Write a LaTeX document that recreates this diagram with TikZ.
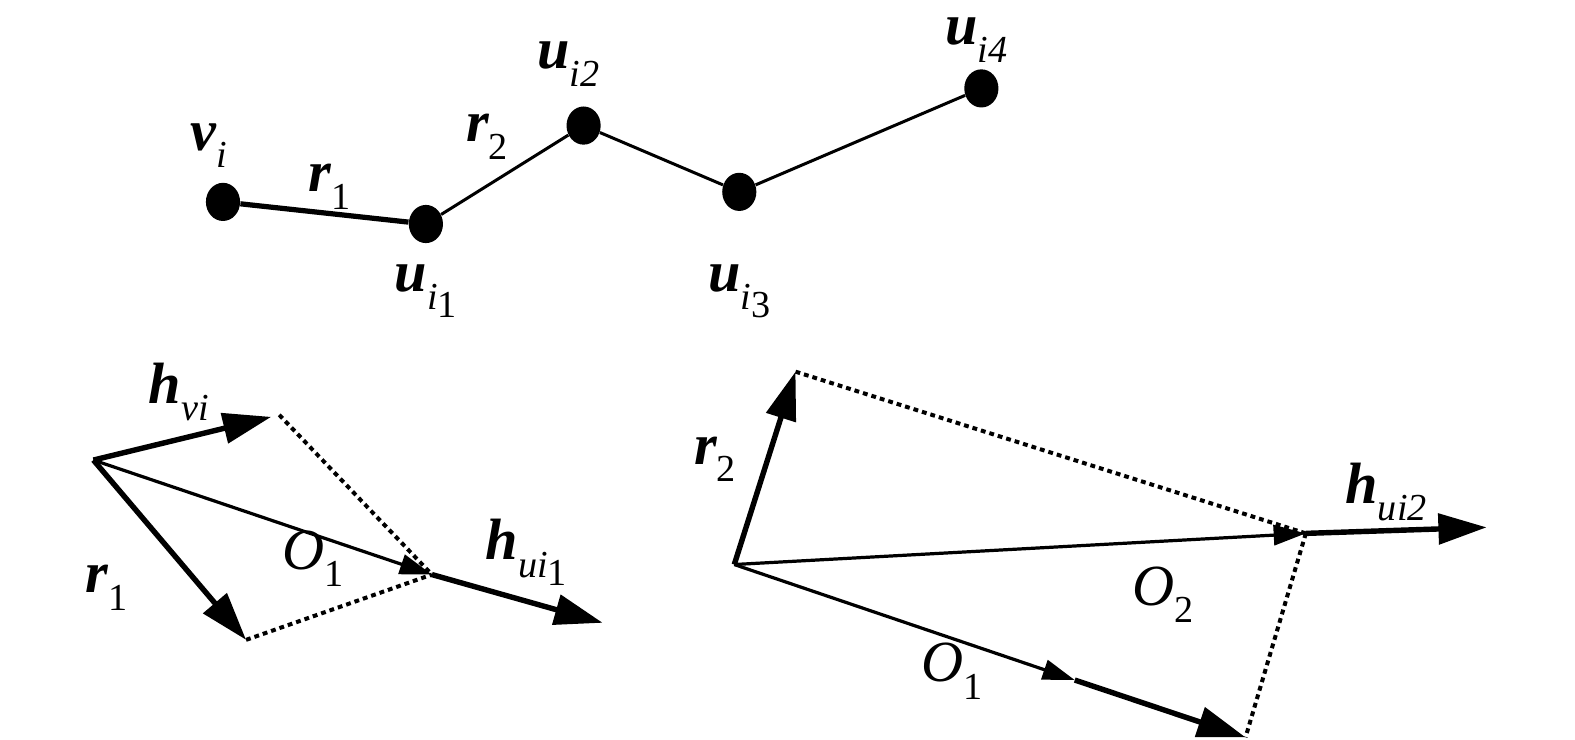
\documentclass[tikz,border=0pt]{standalone}
\usepackage{fontspec}
\newfontfamily\tms{Liberation Serif}[UprightFont=*,BoldFont=* Bold,ItalicFont=* Italic,BoldItalicFont=* Bold Italic]
\usetikzlibrary{arrows.meta,shapes.geometric}
\newcommand\bv[1]{{\bfseries\itshape #1}}
\newcommand\lsub[1]{\raisebox{-0.3em}{\fontsize{19}{21}\selectfont #1}}
\newcommand\ssub[1]{\raisebox{-0.22em}{#1}}
\begin{document}
\begin{tikzpicture}[x=0.5pt,y=-0.5pt,
  dot/.style={ellipse,fill=black,inner sep=0pt,minimum width=17pt,minimum height=19pt},
  lab/.style={inner sep=0pt,font=\tms\fontsize{29}{32}\selectfont},
  thickedge/.style={line width=2.6pt},
  thinedge/.style={line width=1.5pt},
  bigarrow/.style={line width=2.7pt,-{Triangle[length=24pt,width=15pt]}},
  smallarrow/.style={line width=1.6pt,-{Triangle[length=16pt,width=10pt]}},
  dotline/.style={line width=2pt,dash pattern=on 2.4pt off 2pt}]
\useasboundingbox (0,0) rectangle (1568,736);
% ---------- top graph ----------
\node[dot] (vi) at (222,201) {};
\node[dot] (u1) at (424,223) {};
\node[dot] (u2) at (581,125) {};
\node[dot] (u3) at (736,191) {};
\node[dot] (u4) at (977,88) {};
\draw[thickedge] (vi) -- (u1);
\draw[thinedge] (u1) -- (u2);
\draw[thinedge] (u2) -- (u3);
\draw[thinedge] (u3) -- (u4);
\node[lab] (lvi) at (208,145) {\bv{v}\lsub{\itshape i}};
\node[lab] (lr1) at (328,186) {\bv{r}\lsub{1}};
\node[lab] (lr2) at (485,136) {\bv{r}\lsub{2}};
\node[lab] (lu2) at (566,64) {\bv{u}\lsub{\itshape i2}};
\node[lab] (lu1) at (424,290) {\bv{u}\lsub{\itshape i\ssub{\upshape 1}}};
\node[lab] (lu3) at (736,290) {\bv{u}\lsub{\itshape i\ssub{\upshape 3}}};
\node[lab] (lu4) at (972,40) {\bv{u}\lsub{\itshape i4}};
% ---------- bottom left ----------
\coordinate (A) at (93,458);
\coordinate (hvi) at (270,415);
\coordinate (r1) at (245,637);
\coordinate (P1) at (430,572);
\coordinate (hu1) at (600,620);
\draw[bigarrow] (A) -- (hvi);
\draw[bigarrow] (A) -- (r1);
\draw[smallarrow] (A) -- (P1);
\draw[bigarrow] (P1) -- (hu1);
\draw[dotline] (278,413) coordinate (hviend) -- (P1);
\draw[dotline] (r1) -- (P1);
\node[lab] (lhvi) at (178,390) {\bv{h}\lsub{\itshape vi}};
\node[lab] (lr1b) at (106,585) {\bv{r}\lsub{1}};
\node[lab] (lO1a) at (312,556) {\itshape O\lsub{\upshape 1}};
\node[lab] (lhu1) at (524,550) {\bv{h}\lsub{\itshape ui\ssub{\upshape 1}}};
% ---------- bottom right ----------
\coordinate (B) at (731,562);
\coordinate (r2) at (792,370);
\coordinate (P2) at (1300,531);
\coordinate (hu2) at (1480,525);
\coordinate (P3) at (1070,677);
\coordinate (O1e) at (1240,734);
\draw[bigarrow] (B) -- (r2);
\draw[smallarrow] (B) -- (P2);
\draw[bigarrow] (P2) -- (hu2);
\draw[smallarrow] (B) -- (P3);
\draw[bigarrow] (P3) -- (O1e);
\draw[dotline] (r2) -- (P2);
\draw[dotline] (P2) -- (O1e);
\node[lab] (lr2b) at (712,457) {\bv{r}\lsub{2}};
\node[lab] (lO2) at (1158,592) {\itshape O\lsub{\upshape 2}};
\node[lab] (lO1b) at (948,668) {\itshape O\lsub{\upshape 1}};
\node[lab] (lhu2) at (1380,490) {\bv{h}\lsub{\itshape ui2}};
\end{tikzpicture}
\end{document}
